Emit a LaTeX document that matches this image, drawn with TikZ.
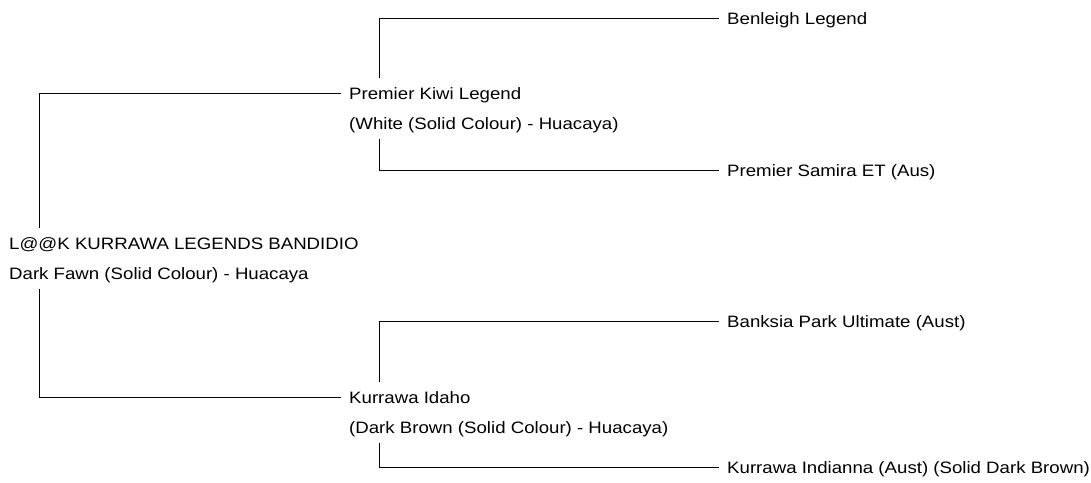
\documentclass[tikz,border=0pt]{standalone}
\usepackage{fontspec}
\setmainfont{Liberation Sans}[FakeStretch=1.13]
\usetikzlibrary{positioning}
\begin{document}
\begin{tikzpicture}[x=1pt,y=-1pt,font=\fontsize{16.5}{20}\selectfont]
\tikzstyle{animal}=[anchor=west,inner xsep=8pt,inner ysep=9pt,text height=12pt,text depth=0pt]
\tikzstyle{colour}=[animal,anchor=north west]
\tikzstyle{link}=[line width=1pt]
\useasboundingbox (0,0) rectangle (1091,482);
\node[animal] (root) at (1,243) {L@@K KURRAWA LEGENDS BANDIDIO};
\node[colour] (rootc) [below right=0pt and 0pt of root.south west] {Dark Fawn (Solid Colour) - Huacaya};
\node[animal] (sire) at (341,93) {Premier Kiwi Legend};
\node[colour] (sirec) [below right=0pt and 0pt of sire.south west] {(White (Solid Colour) - Huacaya)};
\node[animal] (dam) at (341,397) {Kurrawa Idaho};
\node[colour] (damc) [below right=0pt and 0pt of dam.south west] {(Dark Brown (Solid Colour) - Huacaya)};
\node[animal] (ss) at (719,18) {Benleigh Legend};
\node[animal] (sd) at (719,170) {Premier Samira ET (Aus)};
\node[animal] (ds) at (719,321) {Banksia Park Ultimate (Aust)};
\node[animal] (dd) at (719,467) {Kurrawa Indianna (Aust) (Solid Dark Brown)};
\draw[link] ([xshift=38pt]root.north west) |- (sire.west);
\draw[link] ([xshift=38pt]rootc.south west) |- (dam.west);
\draw[link] ([xshift=38pt]sire.north west) |- (ss.west);
\draw[link] ([xshift=38pt]sirec.south west) |- (sd.west);
\draw[link] ([xshift=38pt]dam.north west) |- (ds.west);
\draw[link] ([xshift=38pt]damc.south west) |- (dd.west);
\end{tikzpicture}
\end{document}
